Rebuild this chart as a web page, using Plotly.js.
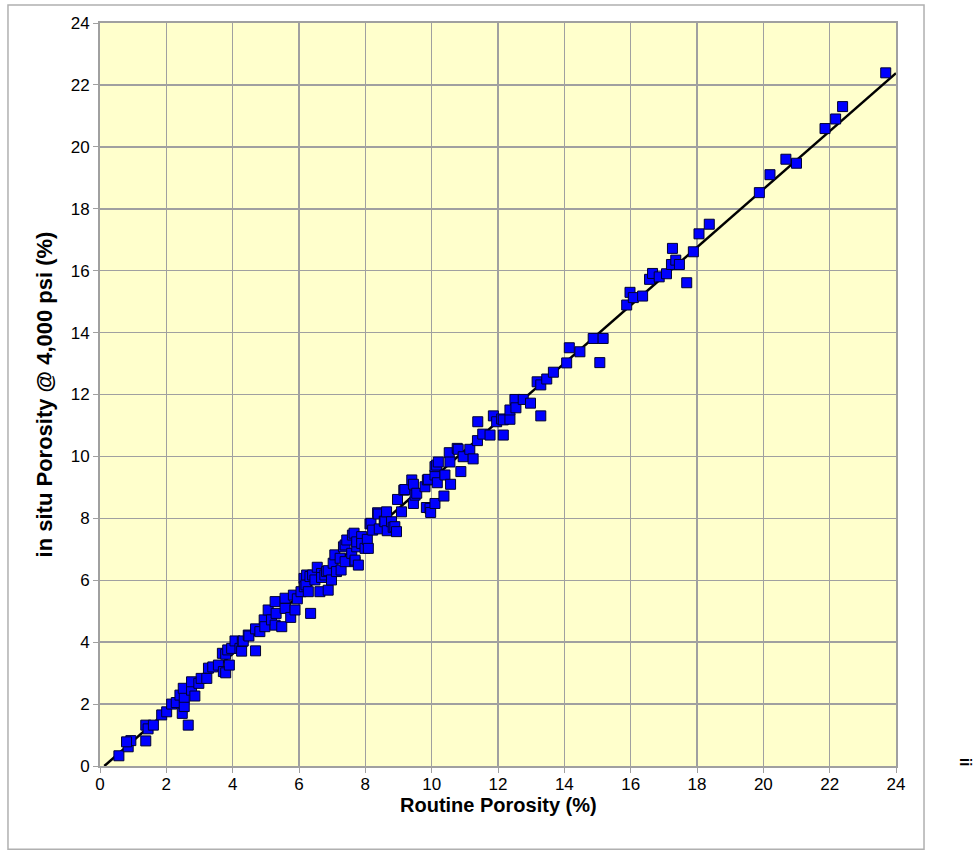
<!DOCTYPE html>
<html>
<head>
<meta charset="utf-8">
<script src="https://cdn.plot.ly/plotly-3.0.1.min.js"></script>
<style>html,body{margin:0;padding:0;background:#fff;}#chart{width:974px;height:856px;}</style>
</head>
<body>
<div id="chart"></div>
<script>
// Routine porosity (%) vs in situ porosity @ 4,000 psi (%)
const routine = [0.57,0.85,0.93,0.80,1.38,1.38,1.45,1.61,1.86,2.01,2.16,2.30,2.48,2.54,2.66,2.41,2.54,2.51,2.76,2.76,2.86,2.98,3.05,3.22,3.27,3.40,3.57,3.69,3.72,3.79,3.90,3.79,3.85,3.97,4.07,4.22,4.27,4.29,4.32,4.47,4.49,4.69,4.69,4.82,4.95,4.97,5.07,5.17,5.28,5.28,5.31,5.48,5.58,5.58,5.75,5.83,5.88,5.95,6.06,6.15,6.16,6.21,6.23,6.28,6.33,6.35,6.41,6.48,6.55,6.63,6.68,6.68,6.78,6.83,6.88,6.88,6.98,7.03,7.08,7.13,7.24,7.27,7.34,7.39,7.39,7.44,7.59,7.61,7.66,7.69,7.69,7.74,7.74,7.79,7.89,7.89,7.99,8.06,8.09,8.14,8.17,8.22,8.37,8.39,8.42,8.57,8.59,8.64,8.66,8.79,8.84,8.89,8.94,8.97,9.09,9.16,9.19,9.40,9.45,9.45,9.50,9.55,9.80,9.84,9.87,9.90,9.95,9.97,10.10,10.10,10.10,10.15,10.17,10.20,10.37,10.40,10.53,10.55,10.57,10.77,10.80,10.88,10.95,11.15,11.25,11.38,11.39,11.54,11.76,11.86,11.96,12.11,12.16,12.16,12.36,12.36,12.51,12.54,12.76,12.98,13.18,13.29,13.29,13.47,13.67,14.07,14.15,14.47,14.87,15.07,15.17,15.88,15.98,16.08,16.36,16.57,16.66,16.86,17.08,17.23,17.26,17.36,17.47,17.69,17.89,18.06,18.37,19.88,20.20,20.68,21.00,21.86,22.18,22.39,23.69];
const insitu  = [0.33,0.62,0.82,0.78,0.81,1.32,1.20,1.32,1.65,1.75,2.00,2.05,1.70,1.92,1.32,2.29,2.22,2.51,2.45,2.72,2.26,2.67,2.83,2.83,3.16,3.20,3.26,3.64,3.05,3.01,3.26,3.61,3.75,3.80,4.04,3.80,3.71,4.02,4.04,4.23,4.20,4.43,3.72,4.34,4.72,4.50,5.04,4.72,5.31,4.55,4.93,4.50,5.42,5.09,4.80,5.52,5.04,5.40,5.63,6.06,5.79,5.85,6.17,5.63,6.12,4.93,6.17,6.01,6.42,5.63,6.22,6.09,6.17,6.28,6.31,5.68,6.01,6.55,6.82,6.28,6.71,6.33,7.08,6.60,7.14,7.30,6.87,7.46,7.52,6.60,6.65,7.08,7.24,6.49,7.41,7.19,7.03,7.32,7.03,7.82,7.84,7.62,8.18,8.14,7.66,7.91,7.89,8.21,7.60,7.89,7.71,7.73,7.57,8.61,8.21,8.91,8.93,9.24,9.10,8.48,8.75,8.81,9.02,8.35,9.24,9.26,8.32,8.19,9.40,9.67,8.48,9.72,9.15,9.82,8.72,9.40,10.12,9.82,9.10,10.26,10.23,9.51,9.99,10.23,9.92,10.51,11.12,10.72,10.69,11.31,11.12,11.21,10.69,11.18,11.20,11.50,11.84,11.57,11.84,11.72,12.41,12.31,11.31,12.50,12.72,13.02,13.51,13.38,13.81,13.03,13.81,14.89,15.30,15.13,15.18,15.72,15.91,15.80,15.90,16.20,16.72,16.34,16.20,15.61,16.61,17.19,17.50,18.52,19.10,19.60,19.47,20.59,20.90,21.30,22.39];
// Trend line end points
const trendX = [0.13, 24];
const trendY = [0, 22.38];
const tickVals = [0,2,4,6,8,10,12,14,16,18,20,22,24];

const traces = [
  {x: trendX, y: trendY, type: 'scatter', mode: 'lines',
   line: {color: '#000000', width: 2.5}, hoverinfo: 'skip', showlegend: false},
  {x: routine, y: insitu, type: 'scatter', mode: 'markers',
   marker: {symbol: 'square', size: 10, color: '#0000FF', line: {color: '#000033', width: 1}},
   showlegend: false}
];
const fam = 'Liberation Sans, Arial, sans-serif';
const axisCommon = {
  range: [0, 24], tickvals: tickVals, ticktext: tickVals.map(String),
  showgrid: true, gridcolor: '#A0A0A0', gridwidth: 1.5,
  showline: true, linecolor: '#A0A0A0', linewidth: 2, mirror: true,
  ticks: 'outside', ticklen: 5, tickcolor: '#A0A0A0', tickwidth: 1,
  zeroline: false, tickfont: {family: fam, size: 17, color: '#000'}
};
const layout = {
  width: 974, height: 856,
  margin: {l: 100, r: 78, t: 23, b: 90},
  paper_bgcolor: '#FFFFFF', plot_bgcolor: '#FFFFCC',
  xaxis: Object.assign({}, axisCommon, {title: {text: ''}, ticklabelstandoff: -3}),
  yaxis: Object.assign({}, axisCommon, {
    title: {text: 'in situ Porosity @ 4,000 psi (%)', standoff: 12,
            font: {family: fam, size: 22, color: '#000', weight: 'bold'}}
  }),
  shapes: [
    {type: 'rect', xref: 'paper', yref: 'paper', x0: -0.1156, x1: 1.0352, y0: -0.112, y1: 1.0242,
     line: {color: '#B0B0B0', width: 1.5}, fillcolor: 'rgba(0,0,0,0)', layer: 'below'}
  ],
  annotations: [
    {xref: 'paper', yref: 'paper', x: 0.5, y: -0.0525, yanchor: 'middle', xanchor: 'center',
     text: '<b>Routine Porosity (%)</b>', showarrow: false,
     font: {family: fam, size: 20, color: '#000'}},
    {xref: 'paper', yref: 'paper', x: 1.1, y: -0.003, text: '<b>ii</b>', showarrow: false,
     textangle: 90, font: {family: fam, size: 16, color: '#000'}}
  ]
};
Plotly.newPlot('chart', traces, layout, {staticPlot: true, displayModeBar: false});
</script>
</body>
</html>
